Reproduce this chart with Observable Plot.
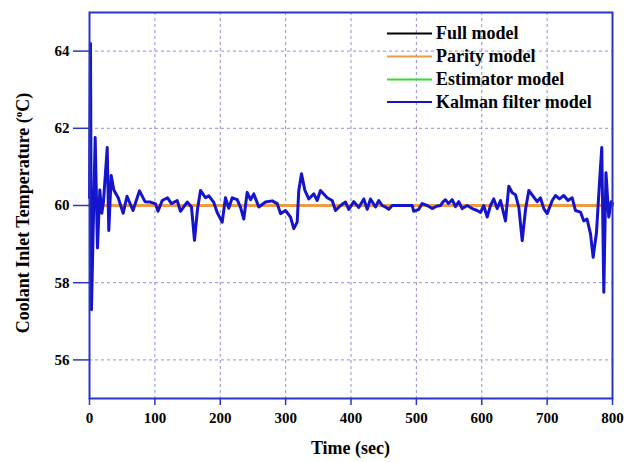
<!DOCTYPE html>
<html>
<head>
<meta charset="utf-8">
<script src="https://cdn.jsdelivr.net/npm/d3@7"></script>
<script src="https://cdn.jsdelivr.net/npm/@observablehq/plot@0.6"></script>
<style>
  html, body { margin: 0; padding: 0; background: #fff; }
</style>
</head>
<body>
<div id="chart"></div>
<script>
// ---- data ----
const seriesNames = ["Full model", "Parity model", "Estimator model", "Kalman filter model"];
const seriesColors = ["#000000", "#ef9a45", "#33dd33", "#1414cc"];

const refTime = [0, 800];
const fullModel = [60, 60];
const parityModel = [60, 60];
const estimatorModel = [60, 60];

const kalmanTime = [0, 1.5, 3, 8.7, 12.2, 15.8, 18.8, 21.4, 27.1, 29.5, 33.2, 37.2, 43.9, 51.5, 57.4, 66.5, 76.5, 84.9, 93.3, 101,
  104.8, 111.2, 119.3, 125.4, 134.1, 139.2, 149.4, 156, 160.6, 165.2, 169.8, 177.4, 182.5, 190.1, 195.3, 203, 208, 213, 218.3, 225.9,
  231, 236, 241.2, 246.3, 251.3, 259, 269.2, 279.5, 287.1, 292.2, 299.8, 307.5, 312.5, 317.7, 320.1, 324.3, 329.3, 335.4, 343.1, 348.3,
  353.3, 363.6, 371.2, 376.3, 384, 391.6, 396.6, 404.3, 411.9, 419.6, 424.8, 429.8, 437.5, 442.5, 447.7, 452.8, 457.8, 463, 493.6, 496,
  503.7, 508.9, 516.5, 524.2, 530.8, 536.9, 542, 544.5, 549.1, 554.8, 559.8, 564.9, 570.1, 577.7, 585.4, 593, 598.1, 603.1, 608.3, 613.4,
  618.4, 623.6, 628.7, 636.3, 641.4, 646.6, 651.6, 656.7, 661.9, 667, 672, 677.6, 684.8, 689.8, 694.9, 700.1, 707.8, 712.8, 718.9, 725.5,
  731.9, 738.3, 743.4, 751, 756.1, 761, 766.3, 770.4, 775.5, 780.6, 783.6, 786.7, 790, 794.3, 798, 800];
const kalmanTemp = [60.2, 64.2, 57.3, 61.76, 58.9, 60.4, 59.8, 60.1, 61.5, 59.35, 60.78, 60.4, 60.2, 59.8, 60.24, 59.87, 60.38, 60.1, 60.09, 60.04,
  59.85, 60.13, 60.2, 60.05, 60.13, 59.85, 60.09, 59.96, 59.1, 59.9, 60.39, 60.2, 60.25, 60.08, 59.82, 59.57, 60.2, 59.93, 60.2, 60.15,
  59.95, 59.65, 60.34, 60.15, 60.3, 59.96, 60.09, 60.12, 60.05, 59.79, 59.87, 59.7, 59.4, 59.57, 60.39, 60.82, 60.4, 60.17, 60.3, 60.13,
  60.39, 60.2, 60.13, 59.87, 60.0, 60.09, 59.9, 60.1, 59.95, 60.17, 59.9, 60.17, 59.96, 60.13, 60.0, 59.96, 59.9, 60.0, 60.0, 59.85,
  59.9, 60.05, 60.0, 59.92, 59.98, 60.0, 60.12, 60.15, 60.05, 60.15, 59.97, 60.1, 59.92, 60.0, 59.92, 59.87, 59.82, 60.0, 59.7, 60.0,
  60.17, 59.92, 60.13, 59.6, 60.5, 60.33, 60.28, 59.95, 59.09, 59.9, 60.39, 60.26, 60.1, 60.2, 59.92, 59.79, 60.13, 60.26, 60.17, 60.26,
  60.13, 60.2, 59.87, 59.83, 59.6, 59.65, 59.27, 58.66, 59.3, 60.73, 61.5, 57.75, 60.85, 59.7, 60.1, 60.05];

const xTicks = [0, 100, 200, 300, 400, 500, 600, 700, 800];
const yTicks = [56, 58, 60, 62, 64];
const xLabel = "Time (sec)";
const yLabelParts = ["Coolant Inlet Temperature (", "o", "C)"];

// ---- build tables ----
const refRows = (vals) => refTime.map((t, i) => ({t, v: vals[i]}));
const kalmanRows = kalmanTime.map((t, i) => ({t, v: kalmanTemp[i]}));

const axisBlue = "#2a34c2";
const gridColor = "#8f8fd2";
const W = 624, H = 462;
const mL = 89, mR = 12, mT = 12, mB = 64;

const plot = Plot.plot({
  width: W,
  height: H,
  marginLeft: mL,
  marginRight: mR,
  marginTop: mT,
  marginBottom: mB,
  style: {fontFamily: "'Liberation Serif', 'Times New Roman', serif", fontWeight: "bold", fontSize: "15px", color: "black", background: "white"},
  x: {domain: [0, 800]},
  y: {domain: [55, 65]},
  marks: [
    Plot.gridX(xTicks.slice(1, -1), {stroke: gridColor, strokeOpacity: 1, strokeDasharray: "3,3", strokeWidth: 1}),
    Plot.gridY(yTicks, {stroke: gridColor, strokeOpacity: 1, strokeDasharray: "3,3", strokeWidth: 1}),
    Plot.lineY(refRows(fullModel), {x: "t", y: "v", stroke: seriesColors[0], strokeWidth: 1}),
    Plot.lineY(refRows(estimatorModel), {x: "t", y: "v", stroke: seriesColors[2], strokeWidth: 1}),
    Plot.lineY(refRows(parityModel), {x: "t", y: "v", stroke: seriesColors[1], strokeWidth: 3}),
    Plot.lineY(kalmanRows, {x: "t", y: "v", stroke: seriesColors[3], strokeWidth: 3, strokeLinejoin: "round"}),
    Plot.frame({stroke: axisBlue, strokeWidth: 2}),
    Plot.axisX({ticks: xTicks, tickSize: 7, tickPadding: 7, stroke: axisBlue, strokeWidth: 1.5, fill: "black", fontSize: 15, fontWeight: "bold", label: null}),
    Plot.axisY({ticks: yTicks, tickSize: 16, tickPadding: 4, stroke: axisBlue, strokeWidth: 1.5, fill: "black", fontSize: 15, fontWeight: "bold", label: null})
  ]
});

document.getElementById("chart").appendChild(plot);

// ---- axis titles ----
const svg = d3.select(plot);
svg.append("text")
  .attr("x", (mL + (W - mR)) / 2)
  .attr("y", 454)
  .attr("text-anchor", "middle")
  .attr("font-size", 18)
  .attr("font-weight", "bold")
  .attr("fill", "black")
  .text(xLabel);

const yl = svg.append("text")
  .attr("transform", `translate(29,${(mT + (H - mB)) / 2 + 8}) rotate(-90)`)
  .attr("text-anchor", "middle")
  .attr("font-size", 18)
  .attr("font-weight", "bold")
  .attr("fill", "black");
yl.append("tspan").text(yLabelParts[0]);
yl.append("tspan").attr("font-size", 11).attr("dy", -7).text(yLabelParts[1]);
yl.append("tspan").attr("dy", 7).text(yLabelParts[2]);

// ---- legend (inside, top right) ----
const lg = svg.append("g").attr("font-size", 18).attr("font-weight", "bold").attr("text-anchor", "start");
const rowY = [33.5, 56.5, 79.5, 102];
seriesNames.forEach((name, i) => {
  lg.append("line").attr("x1", 387).attr("x2", 432).attr("y1", rowY[i]).attr("y2", rowY[i])
    .attr("stroke", seriesColors[i]).attr("stroke-width", 1.8);
  lg.append("text").attr("x", 436).attr("y", rowY[i]).attr("dy", "0.33em").attr("text-anchor", "start").attr("fill", "black").text(name);
});
</script>
</body>
</html>
